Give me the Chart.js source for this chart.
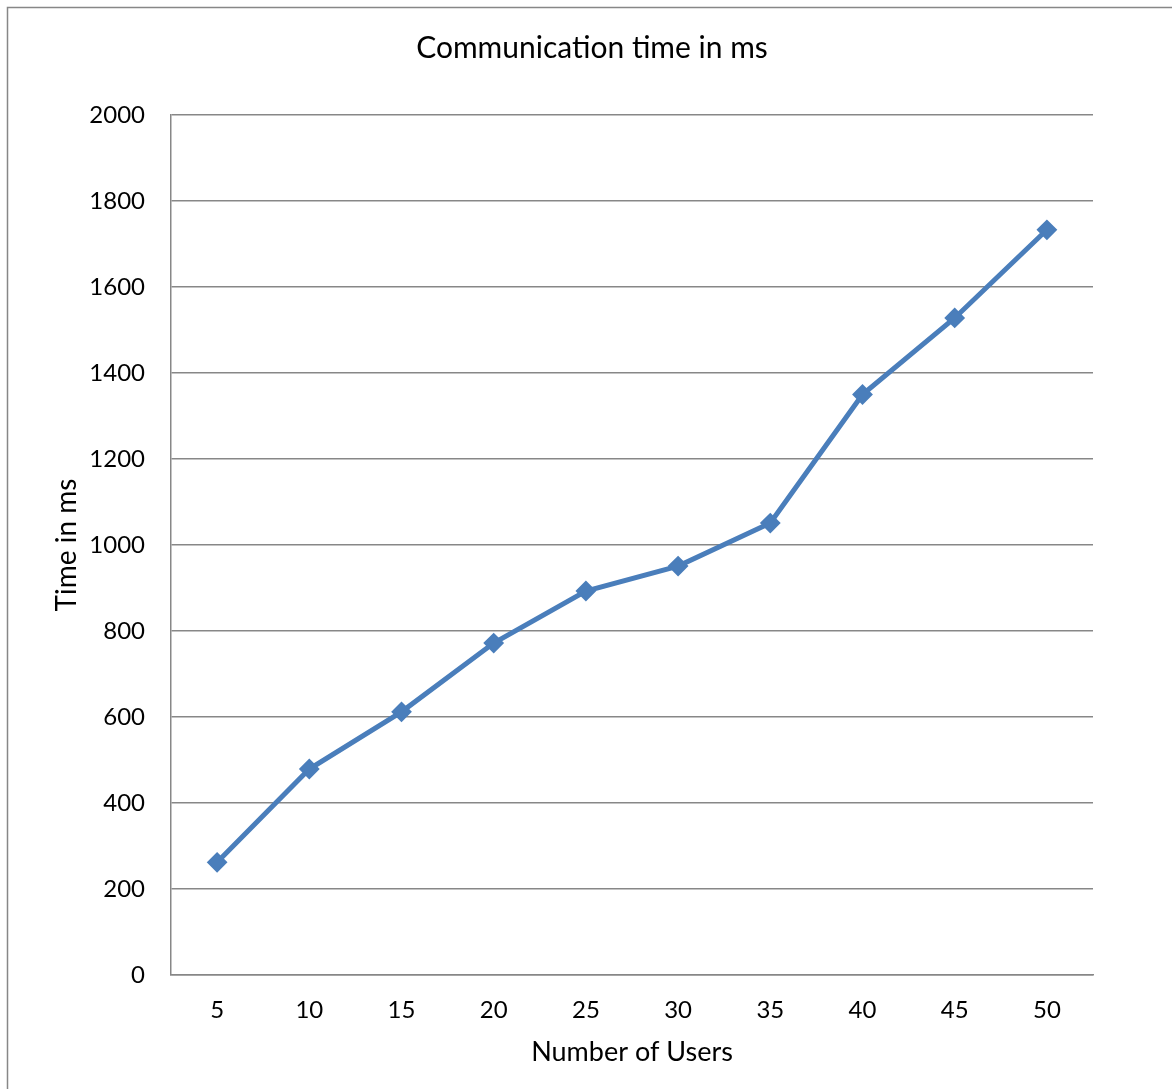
<!DOCTYPE html>
<html>
<head>
<meta charset="utf-8">
<title>Communication time in ms</title>
<script src="https://cdn.jsdelivr.net/npm/chart.js@4/dist/chart.umd.min.js"></script>
<style>
  html, body { margin: 0; padding: 0; background: #ffffff; }
  #wrap { position: relative; width: 1172px; height: 1089px; }
</style>
</head>
<body>
<div id="wrap"><canvas id="chart" width="1172" height="1089"></canvas></div>
<script>
// Number of users per run and the measured communication time (ms)
const users = ['5', '10', '15', '20', '25', '30', '35', '40', '45', '50'];
const commTimes = [262, 479, 612, 772, 893, 951, 1051, 1350, 1528, 1733];

const chartTitle = 'Communication time in ms';
const xTitle = 'Number of Users';
const yTitle = 'Time in ms';

const FONT = 'Lato, "Open Sans", sans-serif';
const GRID = '#878787';
const BLUE = '#4A7EBB';

// Thin grey frame around the whole chart object
const framePlugin = {
  id: 'frame',
  beforeDraw(chart) {
    const ctx = chart.ctx;
    ctx.save();
    ctx.strokeStyle = GRID;
    ctx.lineWidth = 1.5;
    ctx.strokeRect(7.5, 7.5, chart.width + 40, chart.height + 40);
    ctx.restore();
  }
};

new Chart(document.getElementById('chart'), {
  type: 'line',
  data: {
    labels: users,
    datasets: [{
      label: 'Communication time',
      data: commTimes,
      borderColor: BLUE,
      backgroundColor: BLUE,
      borderWidth: 5,
      pointStyle: 'rectRot',
      pointRadius: 9,
      pointHoverRadius: 9,
      pointBorderWidth: 2,
      pointBorderColor: BLUE,
      pointBackgroundColor: BLUE,
      tension: 0,
      fill: false
    }]
  },
  options: {
    responsive: false,
    animation: false,
    layout: { padding: { left: 12, right: 0, top: 0, bottom: 0 } },
    plugins: {
      legend: { display: false },
      tooltip: { enabled: false },
      title: {
        display: true,
        text: chartTitle,
        color: '#000000',
        font: { family: FONT, size: 30, weight: 'normal', lineHeight: 1.2 },
        padding: { top: 30, bottom: 49 }
      }
    },
    scales: {
      x: {
        offset: true,
        grid: { display: false, drawTicks: false },
        border: { display: true, color: GRID, width: 1.5 },
        ticks: {
          color: '#000000',
          padding: 21,
          font: { family: FONT, size: 24, lineHeight: 1.2 }
        },
        title: {
          display: true,
          text: xTitle,
          color: '#000000',
          font: { family: FONT, size: 27, lineHeight: 1.2 },
          padding: { top: 0, bottom: 21 }
        },
        afterFit(scale) { scale.height = 1089 - 975; }
      },
      y: {
        min: 0,
        max: 2000,
        ticks: {
          stepSize: 200,
          color: '#000000',
          padding: 26,
          font: { family: FONT, size: 24, lineHeight: 1.2 },
          callback: (v) => String(v)
        },
        grid: { color: GRID, lineWidth: 1.5, drawTicks: false },
        border: { display: true, color: GRID, width: 1.5 },
        title: {
          display: true,
          text: yTitle,
          color: '#000000',
          font: { family: FONT, size: 28, lineHeight: 1.2 },
          padding: { top: 38, bottom: 0 }
        },
        afterFit(scale) { scale.width = 171 - 12; }
      },
      yRight: {
        position: 'right',
        display: true,
        grid: { display: false, drawTicks: false },
        border: { display: false },
        ticks: { display: false },
        afterFit(scale) { scale.width = 1172 - 1093; }
      }
    }
  },
  plugins: [framePlugin]
});
</script>
</body>
</html>
